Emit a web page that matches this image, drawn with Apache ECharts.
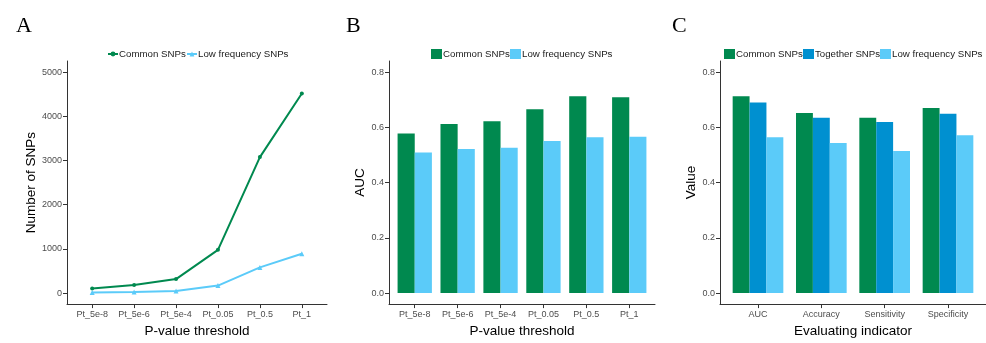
<!DOCTYPE html>
<html><head><meta charset="utf-8">
<script src="https://cdn.jsdelivr.net/npm/echarts@6/dist/echarts.min.js"></script>
<style>html,body{margin:0;padding:0;background:#fff}#c{width:986px;height:343px}</style>
</head><body><div id="c"></div>
<script>
// ---- data ----
const thresholds = ['Pt_5e-8','Pt_5e-6','Pt_5e-4','Pt_0.05','Pt_0.5','Pt_1'];
const countCommon = [103,184,316,977,3076,4515];
const countLow = [15,22,44,169,580,888];
const aucCommon = [0.578,0.612,0.622,0.665,0.712,0.709];
const aucLow = [0.509,0.521,0.526,0.550,0.564,0.566];
const indicators = ['AUC','Accuracy','Sensitivity','Specificity'];
const valCommon = [0.712,0.652,0.635,0.670];
const valTogether = [0.690,0.635,0.619,0.649];
const valLow = [0.564,0.543,0.514,0.571];
const countTicks = [0,1000,2000,3000,4000,5000];
const ratioTicks = [0,0.2,0.4,0.6,0.8];

// ---- styles ----
const GREEN = '#00894F', TOG = '#0090D0', LIGHT = '#5BCBF9';
const FONT = 'Liberation Sans, Arial, sans-serif';
const axisColor = '#333';
const lineStyle = {color: axisColor, width: 1};
const nameStyle = {fontFamily: FONT, fontSize: 13.5, color: '#000'};
const tickLabel = {fontFamily: FONT, fontSize: 9, color: '#4d4d4d'};

function catX(gridIndex, cats, name) {
  const idx = cats.map((_, i) => i);
  return {
    type: 'value', gridIndex, min: -0.6, max: cats.length - 1 + 0.6,
    name, nameLocation: 'middle', nameGap: 18, nameTextStyle: nameStyle,
    axisLine: {show: true, onZero: false, lineStyle},
    axisTick: {show: true, length: 4, customValues: idx, lineStyle},
    axisLabel: Object.assign({customValues: idx, margin: 6, formatter: v => cats[Math.round(v)]}, tickLabel),
    splitLine: {show: false}
  };
}
function valY(gridIndex, min, max, ticks, name, gap, fmt) {
  return {
    type: 'value', gridIndex, min, max,
    name, nameLocation: 'middle', nameGap: gap, nameTextStyle: nameStyle,
    axisLine: {show: true, onZero: false, lineStyle},
    axisTick: {show: true, length: 4, customValues: ticks, lineStyle},
    axisLabel: Object.assign({customValues: ticks, margin: 5, formatter: fmt}, tickLabel),
    splitLine: {show: false}
  };
}
const legendText = {fontFamily: FONT, fontSize: 9.7, color: '#1a1a1a', padding: [0, 0, 0, -4]};
function leg(name, left, isLine) {
  const l = {left, top: 49, width: 200, padding: 0, textStyle: legendText, data: [name]};
  if (isLine) { l.itemWidth = 10; l.itemHeight = 6; }
  else { l.itemWidth = 11; l.itemHeight = 10; l.icon = 'rect'; }
  return l;
}
function pairs(arr) { return arr.map((v, i) => [i, v]); }
function bar(name, data, color, idx) {
  return {type: 'bar', name, xAxisIndex: idx, yAxisIndex: idx, data: pairs(data),
    itemStyle: {color}, barGap: '0%', barCategoryGap: '20%', silent: true};
}

const option = {
  animation: false,
  backgroundColor: '#fff',
  grid: [
    {left: 67, top: 61, width: 260, height: 250},
    {left: 389, top: 61, width: 266, height: 250},
    {left: 720, top: 61, width: 266, height: 250}
  ],
  xAxis: [
    catX(0, thresholds, 'P-value threshold'),
    catX(1, thresholds, 'P-value threshold'),
    catX(2, indicators, 'Evaluating indicator')
  ],
  yAxis: [
    valY(0, -250, 5250, countTicks, 'Number of SNPs', 22, v => String(v)),
    valY(1, -0.04, 0.84, ratioTicks, 'AUC', 14, v => v.toFixed(1)),
    valY(2, -0.04, 0.84, ratioTicks, 'Value', 14, v => v.toFixed(1))
  ],
  legend: [
    leg('Common SNPs', 107, true),
    leg('Low frequency SNPs', 186, true),
    leg('Common SNPs ', 431, false),
    leg('Low frequency SNPs ', 510, false),
    leg('Common SNPs  ', 724, false),
    leg('Together SNPs', 803, false),
    leg('Low frequency SNPs  ', 880, false)
  ],
  graphic: [
    {type: 'text', left: 16, top: 15, style: {text: 'A', font: '22px "Liberation Serif", serif', fill: '#000'}},
    {type: 'text', left: 346, top: 15, style: {text: 'B', font: '22px "Liberation Serif", serif', fill: '#000'}},
    {type: 'text', left: 672, top: 15, style: {text: 'C', font: '22px "Liberation Serif", serif', fill: '#000'}}
  ],
  series: [
    {type: 'line', name: 'Common SNPs', xAxisIndex: 0, yAxisIndex: 0, data: pairs(countCommon),
     symbol: 'circle', symbolSize: 4, lineStyle: {color: GREEN, width: 2}, itemStyle: {color: GREEN}},
    {type: 'line', name: 'Low frequency SNPs', xAxisIndex: 0, yAxisIndex: 0, data: pairs(countLow),
     symbol: 'triangle', symbolSize: 5, lineStyle: {color: LIGHT, width: 2}, itemStyle: {color: LIGHT}},
    bar('Common SNPs ', aucCommon, GREEN, 1),
    bar('Low frequency SNPs ', aucLow, LIGHT, 1),
    bar('Common SNPs  ', valCommon, GREEN, 2),
    bar('Together SNPs', valTogether, TOG, 2),
    bar('Low frequency SNPs  ', valLow, LIGHT, 2)
  ]
};
const chart = echarts.init(document.getElementById('c'), null, {renderer: 'canvas'});
chart.setOption(option);
</script>
</body></html>
